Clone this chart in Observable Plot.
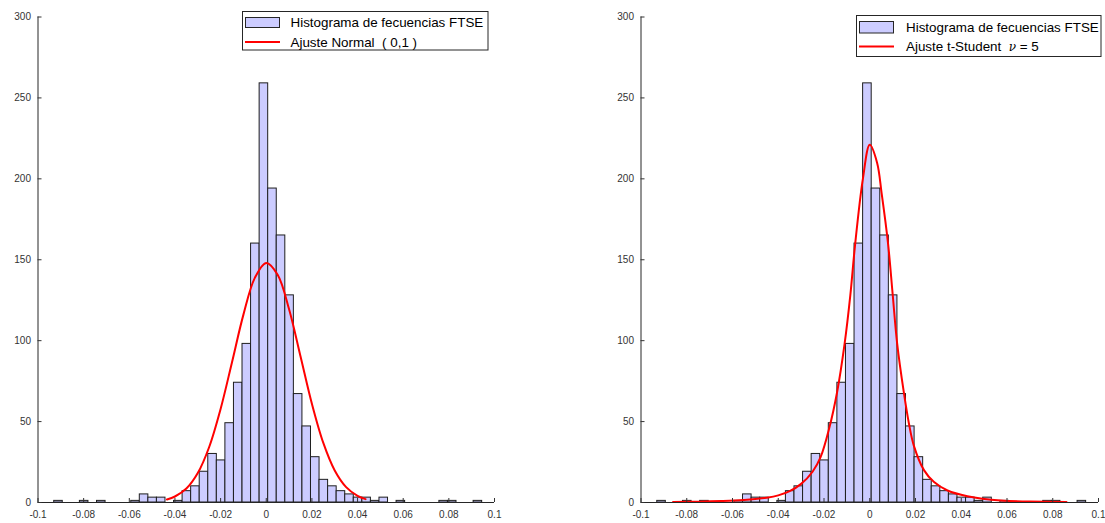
<!DOCTYPE html>
<html>
<head>
<meta charset="utf-8">
<script src="https://cdn.jsdelivr.net/npm/d3@7"></script>
<script src="https://cdn.jsdelivr.net/npm/@observablehq/plot@0.6"></script>
<style>
  body { margin: 0; background: #fff; }
  #wrap { position: relative; width: 1105px; height: 523px; overflow: hidden; font-family: "Liberation Sans", Arial, sans-serif; }
  .panel { position: absolute; top: 0; }
  .legend { position: absolute; }
  .legend text { font-family: "Liberation Sans", Arial, sans-serif; font-size: 13.4px; fill: #000; white-space: pre; }
</style>
</head>
<body>
<div id="wrap"></div>
<script>
// ---- data ----
const xTicks = [-0.1, -0.08, -0.06, -0.04, -0.02, 0, 0.02, 0.04, 0.06, 0.08, 0.1];
const xTickLabels = ["-0.1", "-0.08", "-0.06", "-0.04", "-0.02", "0", "0.02", "0.04", "0.06", "0.08", "0.1"];
const yTicks = [0, 50, 100, 150, 200, 250, 300];
const yTickLabels = ["0", "50", "100", "150", "200", "250", "300"];

// histogram of FTSE returns: 50 bins
const binStart = -0.0929;
const binWidth = 0.00375;
const counts = [1, 0, 0, 1, 0, 1, 0, 0, 0, 1, 5, 3, 3, 0, 1, 7, 10, 19, 30, 26, 49, 74, 98, 160,
                259, 194, 165, 128, 67, 47, 28, 14, 10, 7, 5, 3, 3, 1, 3, 0, 1, 0, 0, 0, 0, 1, 1, 0, 0, 1];

// normal fit curve
const normX = [-0.0435, -0.04, -0.035, -0.03, -0.025, -0.02, -0.015, -0.01, -0.005, 0, 0.005, 0.01, 0.015, 0.02, 0.025, 0.03, 0.035, 0.04, 0.0435];
const normY = [1.9, 3.7, 8.6, 18.2, 34.3, 57.8, 86.7, 116.1, 138.8, 148, 140.7, 119.4, 90.4, 61.0, 36.8, 19.8, 9.5, 4.1, 2.1];

// t-Student fit curve, nu = 5
const tX = [-0.086, -0.075, -0.065, -0.055, -0.045, -0.04, -0.035, -0.03, -0.025, -0.0215, -0.0177, -0.0143, -0.0110, -0.0085, -0.0065, -0.003, 0,
            0.0032, 0.0052, 0.0080, 0.0100, 0.0120, 0.0149, 0.0171, 0.0193, 0.0237, 0.0281, 0.034, 0.0427, 0.0573, 0.07, 0.086];
const tY = [0.3, 0.5, 0.9, 1.6, 3.0, 4.4, 7.0, 11.5, 19, 28, 46, 68, 98, 128, 158, 200, 221,
            210, 191, 160, 129, 98, 68, 49, 35, 20, 12.6, 7.4, 3.9, 1.2, 0.6, 0.3];

// ---- build tables ----
const bins = counts.map((c, i) => ({ x1: binStart + i * binWidth, x2: binStart + (i + 1) * binWidth, count: c }))
                   .filter(d => d.count > 0);
const normCurve = normX.map((x, i) => ({ x, y: normY[i] }));
const tCurve = tX.map((x, i) => ({ x, y: tY[i] }));
const xLab = new Map(xTicks.map((t, i) => [t, xTickLabels[i]]));
const yLab = new Map(yTicks.map((t, i) => [t, yTickLabels[i]]));

function panel(curve, width, ml, mr) {
  return Plot.plot({
    width, height: 523,
    marginLeft: ml, marginRight: mr, marginTop: 16.5, marginBottom: 21,
    x: { domain: [-0.1, 0.1] },
    y: { domain: [0, 300] },
    style: { fontFamily: "Liberation Sans, Arial, sans-serif", fontSize: "10px", color: "#333", background: "white" },
    marks: [
      Plot.rectY(bins, { x1: "x1", x2: "x2", y: "count", fill: "#ccccff", stroke: "#1e1e1e", strokeWidth: 1 }),
      Plot.line(curve, { x: "x", y: "y", stroke: "#ff0000", strokeWidth: 2, curve: "catmull-rom" }),
      Plot.ruleY([0], { stroke: "#262626" }),
      Plot.ruleX([-0.1], { stroke: "#262626" }),
      Plot.axisX({ ticks: xTicks, tickFormat: d => xLab.get(d), tickSize: -4, tickPadding: 12, label: null }),
      Plot.axisY({ ticks: yTicks, tickFormat: d => yLab.get(d), tickSize: -4, tickPadding: 11, label: null })
    ]
  });
}

const wrap = document.getElementById("wrap");
const left = panel(normCurve, 550, 37.5, 56);
left.classList.add("panel");
left.style.left = "0px";
wrap.appendChild(left);

const right = panel(tCurve, 555, 90.5, 7);
right.classList.add("panel");
right.style.left = "550px";
wrap.appendChild(right);

// legends
function legend(x, y, w, h, patchY, patchH, row1, row2, textX, label2) {
  const div = document.createElement("div");
  div.className = "legend";
  div.style.left = x + "px";
  div.style.top = y + "px";
  div.innerHTML =
    `<svg width="${w + 1}" height="${h + 1}" xmlns="http://www.w3.org/2000/svg">
      <rect x="0.5" y="0.5" width="${w}" height="${h}" fill="#fff" stroke="#262626"/>
      <rect x="3.5" y="${patchY}" width="34" height="${patchH}" fill="#ccccff" stroke="#262626"/>
      <text x="${textX}" y="${row1}" dominant-baseline="central">Histograma de fecuencias FTSE</text>
      <line x1="3" x2="38" y1="${row2}" y2="${row2}" stroke="#ff0000" stroke-width="2"/>
      <text x="${textX}" y="${row2}" dominant-baseline="central">${label2}</text>
    </svg>`;
  wrap.appendChild(div);
}
legend(242, 11, 245.5, 38.5, 6.5, 10, 11.5, 31, 48.5, "Ajuste Normal  ( 0,1 )");
legend(856, 15, 244.5, 41, 6.5, 11.5, 12.5, 31.5, 50,
  'Ajuste t-Student  <tspan font-style="italic" font-family="DejaVu Serif" font-size="12px">ν</tspan> = 5');
</script>
</body>
</html>
